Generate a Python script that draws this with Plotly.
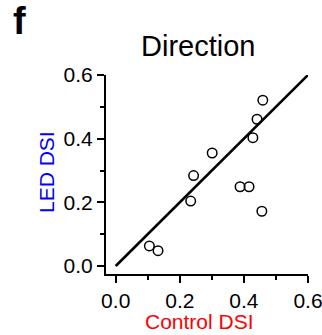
import plotly.graph_objects as go

control_dsi = [0.105, 0.132, 0.234, 0.243, 0.301, 0.388, 0.416, 0.428, 0.441, 0.459, 0.456]
led_dsi = [0.063, 0.048, 0.204, 0.284, 0.355, 0.249, 0.249, 0.403, 0.461, 0.521, 0.172]
unity_x = [0.0, 0.6]
unity_y = [0.0, 0.6]
tick_vals = [0.0, 0.2, 0.4, 0.6]
tick_text = ["0.0", "0.2", "0.4", "0.6"]

FONT = "Arial, Liberation Sans, Helvetica, sans-serif"

fig = go.Figure()
fig.add_trace(go.Scatter(x=unity_x, y=unity_y, mode="lines",
                         line=dict(color="black", width=2.6), showlegend=False,
                         hoverinfo="skip"))
fig.add_trace(go.Scatter(x=control_dsi, y=led_dsi, mode="markers",
                         marker=dict(symbol="circle-open", size=9.5, color="black",
                                     line=dict(width=1.5, color="black")),
                         showlegend=False))

axis_common = dict(showgrid=False, zeroline=False, showline=True, linecolor="black",
                   linewidth=2, ticks="outside", ticklen=7, tickwidth=2, tickcolor="black",
                   tickvals=tick_vals, ticktext=tick_text, ticklabeloverflow="allow",
                   tickfont=dict(family=FONT, size=21, color="black"),
                   minor=dict(tickvals=[0.1, 0.3, 0.5], ticks="outside", ticklen=4,
                              tickwidth=2, tickcolor="black"))

L, R, T, B = 106, 14, 75, 61
W, H = 322, 335
pw = W - L - R
ph = H - T - B


def px(xp):
    return (xp - L) / pw


def py(yp):
    return (H - B - yp) / ph


fig.update_layout(
    width=W, height=H,
    margin=dict(l=L, r=R, t=T, b=B, autoexpand=False),
    plot_bgcolor="white", paper_bgcolor="white",
    xaxis=dict(range=[-0.0303, 0.6], **axis_common),
    yaxis=dict(range=[-0.0251, 0.6], **axis_common),
    annotations=[
        dict(text="<b>f</b>", xref="paper", yref="paper", showarrow=False,
             x=px(19), y=py(21), xanchor="center", yanchor="middle",
             font=dict(family=FONT, size=38, color="black")),
        dict(text="Direction", xref="paper", yref="paper", showarrow=False,
             x=px(197.5), y=py(46), xanchor="center", yanchor="middle",
             font=dict(family=FONT, size=29, color="black")),
        dict(text="Control DSI", xref="paper", yref="paper", showarrow=False,
             x=px(199), y=py(321), xanchor="center", yanchor="middle",
             font=dict(family=FONT, size=21, color="#ff0000")),
        dict(text="LED DSI", xref="paper", yref="paper", showarrow=False, textangle=-90,
             x=px(46), y=py(172), xanchor="center", yanchor="middle",
             font=dict(family=FONT, size=21, color="#0000ff")),
    ],
)

fig.write_html("out.html")
